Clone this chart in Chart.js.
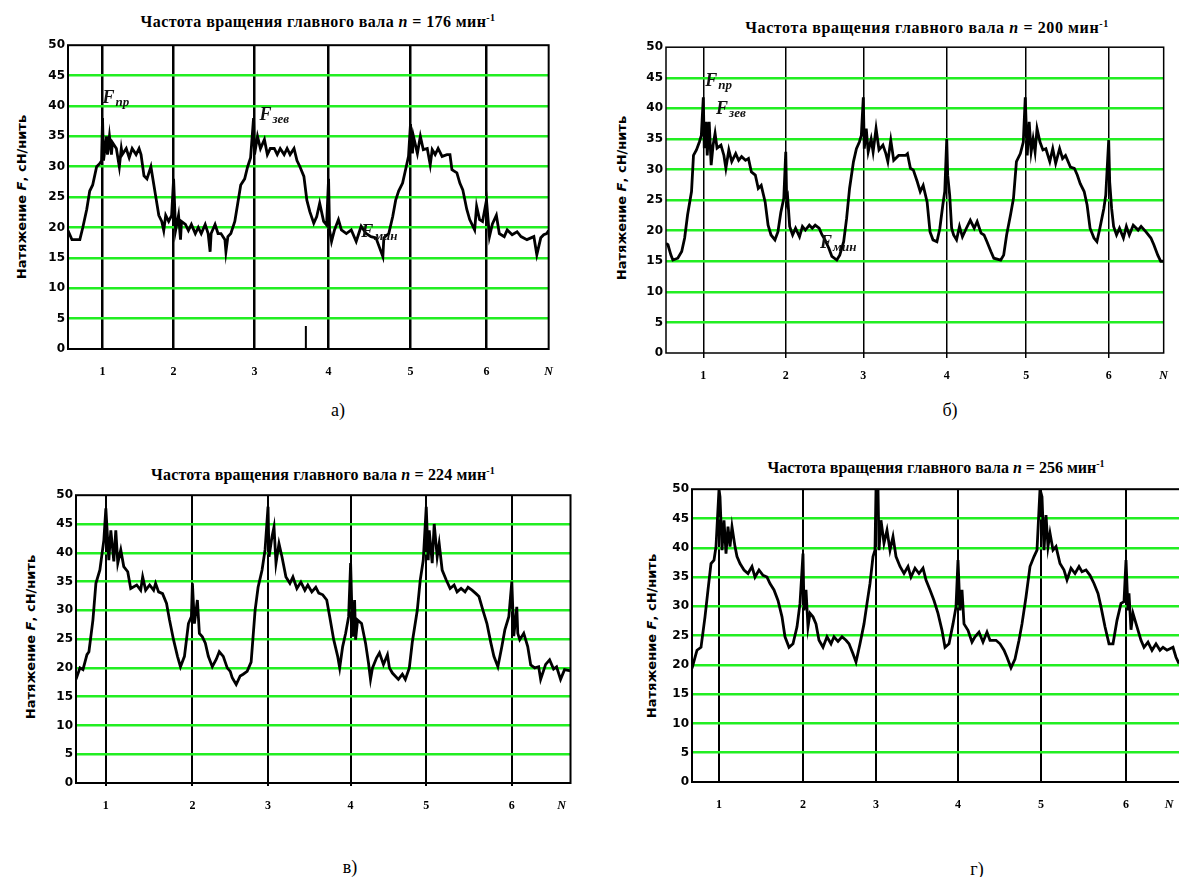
<!DOCTYPE html>
<html lang="ru">
<head>
<meta charset="UTF-8">
<title>Натяжение нитей основы</title>
<style>
    body {
        margin: 0;
        background: #fff;
        width: 1179px;
        height: 877px;
        overflow: hidden;
        position: relative;
        color: #000;
    }
    canvas { position: absolute; }
    .title {
        position: absolute;
        transform: translate(-50%, -50%);
        font: bold 16px "Liberation Serif", serif;
        white-space: nowrap;
    }
    .title sup { font-size: 10px; vertical-align: 6px; line-height: 0; }
    .ytitle {
        position: absolute;
        transform: translate(-50%, -50%) rotate(-90deg);
        font: bold 13px "DejaVu Sans", sans-serif;
        white-space: nowrap;
    }
    .caption {
        position: absolute;
        transform: translate(-50%, -50%);
        font: 18px "Liberation Serif", serif;
    }
</style>
<script src="https://cdn.jsdelivr.net/npm/chart.js"></script>
</head>
<body>
    <!-- а) n = 176 -->
    <div class="title" style="left:318px; top:22px; letter-spacing:0.4px;">Частота вращения главного вала <i>n</i> = 176 мин<sup>-1</sup></div>
    <div class="ytitle" style="left:21px; top:197px;">Натяжение <i>F</i>, сН/нить</div>
    <canvas id="chartA" width="539" height="349" style="left:30px; top:35px;"></canvas>
    <div class="caption" style="left:338px; top:410px;">а)</div>

    <!-- б) n = 200 -->
    <div class="title" style="left:927px; top:28px; letter-spacing:0.6px;">Частота вращения главного вала <i>n</i> = 200 мин<sup>-1</sup></div>
    <div class="ytitle" style="left:621px; top:198px;">Натяжение <i>F</i>, сН/нить</div>
    <canvas id="chartB" width="543" height="351" style="left:636px; top:37px;"></canvas>
    <div class="caption" style="left:950px; top:410px;">б)</div>

    <!-- в) n = 224 -->
    <div class="title" style="left:323px; top:475px; letter-spacing:0.15px;">Частота вращения главного вала <i>n</i> = 224 мин<sup>-1</sup></div>
    <div class="ytitle" style="left:30px; top:637px;">Натяжение <i>F</i>, сН/нить</div>
    <canvas id="chartC" width="535" height="333" style="left:44px; top:485px;"></canvas>
    <div class="caption" style="left:350px; top:867px;">в)</div>

    <!-- г) n = 256 -->
    <div class="title" style="left:936px; top:468px;">Частота вращения главного вала <i>n</i> = 256 мин<sup>-1</sup></div>
    <div class="ytitle" style="left:651px; top:636px;">Натяжение <i>F</i>, сН/нить</div>
    <canvas id="chartD" width="531" height="338" style="left:662px; top:479px;"></canvas>
    <div class="caption" style="left:977px; top:869px;">г)</div>

    <script>
        // time axis in samples, cycle marks N = 1..6
        const xLabels = ['1', '2', '3', '4', '5', '6', 'N'];
        const yTicks = [0, 5, 10, 15, 20, 25, 30, 35, 40, 45, 50];

        // а) n = 176 min-1
        const marksA = [35, 107, 189, 264, 347, 424];
        const tA = [0, 4, 12, 15, 19, 22, 25, 29, 32, 34, 35, 36, 39, 40, 42, 44, 45, 49, 52, 54, 55, 59, 62, 65, 69, 72, 74, 77, 80, 84, 87, 89, 92, 95, 97, 99, 102, 105, 107, 109, 112, 114, 115, 119, 122, 125, 129, 132, 135, 139, 142, 144, 145, 149, 152, 155, 159, 160, 162, 165, 169, 172, 175, 179, 182, 185, 188, 189, 192, 195, 199, 202, 205, 209, 212, 215, 219, 222, 225, 229, 232, 235, 239, 242, 245, 249, 252, 255, 259, 262, 264, 265, 267, 270, 274, 277, 282, 287, 292, 297, 302, 307, 312, 319, 320, 325, 329, 332, 335, 339, 342, 345, 347, 349, 350, 354, 357, 360, 364, 367, 369, 372, 375, 379, 384, 387, 389, 394, 397, 400, 404, 407, 412, 414, 417, 420, 424, 427, 430, 434, 437, 442, 445, 450, 455, 459, 465, 472, 475, 479, 482, 485, 487];
        const fA = [19.5, 18, 18, 20, 23, 26, 27, 30, 30.5, 31, 38, 31, 35, 32, 35, 32, 34, 33, 30, 33, 32, 33, 31.5, 33, 32, 33, 32, 28.5, 28, 30, 27, 25, 22, 21, 19.5, 22, 21, 22, 28, 19.5, 22, 18, 21, 20.5, 19.5, 20.5, 19, 20, 19, 20.5, 19, 16, 19, 20.5, 19, 19, 18, 16, 18.5, 19, 21, 24, 27, 28, 30, 31.5, 38, 32, 35, 33, 34.5, 32, 33, 33, 32, 33, 32, 33, 32, 33, 31, 30, 28.4, 24.5, 22.6, 20.7, 21.8, 24, 21, 20.4, 28, 19.6, 17.7, 19.6, 21.3, 19.6, 19, 19.6, 17.7, 20.2, 19, 18.5, 18.3, 15.2, 18.3, 19, 21.8, 24.5, 26, 27.3, 29.5, 31.7, 37, 32.2, 35, 32.2, 35, 32.8, 33, 30.3, 32.8, 32, 33, 31.7, 32, 32, 29.5, 29, 27.3, 26.2, 23, 21.3, 19.6, 23.5, 21.3, 21, 24.5, 18.5, 20.6, 22, 19, 18.5, 19.6, 18.8, 19.3, 18.5, 18, 18.5, 15.5, 18.3, 18.8, 19, 19.5];
        const stubA = [0, 3.8];

        // б) n = 200 min-1
        const marksB = [38, 122, 201, 286, 367, 451];
        const tB = [0, 2, 5, 7, 12, 16, 19, 22, 26, 28, 31, 34, 36, 38, 39, 41, 42, 44, 46, 48, 50, 52, 56, 59, 61, 64, 67, 71, 74, 77, 81, 84, 87, 91, 94, 97, 101, 104, 107, 111, 114, 117, 120, 122, 123, 124, 126, 129, 132, 136, 139, 142, 146, 149, 152, 156, 159, 162, 166, 169, 174, 177, 181, 184, 187, 191, 194, 197, 199, 201, 202, 204, 206, 209, 211, 214, 217, 221, 224, 226, 229, 232, 237, 244, 246, 249, 252, 256, 259, 262, 266, 269, 272, 276, 279, 282, 284, 286, 287, 289, 291, 293, 296, 299, 302, 306, 310, 314, 317, 321, 324, 327, 331, 334, 341, 344, 347, 351, 354, 357, 361, 364, 366, 368, 370, 372, 374, 376, 378, 381, 384, 387, 391, 394, 397, 401, 404, 407, 412, 416, 419, 422, 426, 429, 432, 436, 439, 442, 446, 448, 451, 452, 454, 456, 459, 462, 466, 469, 472, 476, 481, 484, 489, 494, 497, 501, 504, 507];
        const fB = [17.9, 17.7, 16, 15.2, 15.5, 16.6, 18.8, 22.6, 26.4, 32.3, 33.2, 34.5, 35.6, 41.8, 33.5, 37.8, 32.3, 37.8, 30.7, 34, 35.9, 33.5, 34, 32.3, 30.2, 33.2, 31.3, 32.6, 31.5, 32.1, 31.5, 31.8, 29.6, 29.1, 26.9, 27.4, 24.7, 20.9, 19.3, 18.5, 19.8, 23, 25.3, 32.9, 24.7, 25.3, 20.7, 19.3, 20.4, 19, 20.7, 20.1, 20.9, 20.4, 20.9, 20.4, 19.3, 18.5, 17.1, 15.8, 15.2, 16, 18.2, 22, 26.9, 31.3, 33.4, 34.5, 35.6, 41.8, 33.4, 36.7, 32.9, 35, 32.9, 36.7, 33.2, 34, 32.6, 31.3, 34.8, 31.5, 32.3, 32.3, 32.6, 30.2, 29.9, 28, 26.4, 27.4, 24.7, 19.8, 18.5, 18.2, 20.4, 24.2, 26.4, 35, 29, 25.8, 20.4, 19.3, 18.5, 20.7, 19, 20.4, 21.7, 20.4, 21.5, 19.6, 19.3, 18.2, 16.6, 15.5, 15.2, 16, 19.3, 22.6, 25.3, 31.3, 32.6, 34.5, 41.8, 32.3, 37.8, 32.9, 35, 32.9, 36.7, 34.5, 33.2, 33.4, 31.3, 33.4, 31, 33.4, 31.8, 32.3, 30.4, 30.2, 29.1, 27.7, 26.4, 24.2, 20.4, 18.8, 18.2, 20.4, 23.6, 25.8, 34.8, 28, 23.6, 20.7, 19.3, 20.4, 18.8, 20.7, 19.3, 20.9, 20.1, 20.7, 19.8, 18.8, 17.7, 16, 15, 15];

        // в) n = 224 min-1
        const marksC = [30, 117, 193, 276, 352, 438];
        const tC = [0, 4, 7, 11, 13, 17, 20, 24, 28, 30, 33, 35, 38, 40, 42, 45, 48, 52, 55, 61, 65, 67, 70, 74, 78, 80, 83, 87, 91, 94, 98, 102, 105, 109, 113, 116, 117, 119, 122, 124, 127, 130, 133, 137, 141, 144, 148, 150, 152, 155, 157, 161, 165, 168, 172, 176, 180, 183, 187, 190, 193, 194, 197, 199, 201, 204, 207, 211, 215, 218, 222, 226, 230, 233, 237, 241, 244, 248, 252, 255, 259, 263, 265, 268, 271, 274, 276, 278, 280, 281, 283, 287, 291, 294, 296, 298, 302, 305, 309, 313, 315, 318, 324, 328, 331, 335, 338, 343, 346, 349, 352, 354, 355, 358, 360, 363, 365, 368, 372, 376, 380, 383, 387, 391, 394, 398, 402, 405, 409, 413, 417, 420, 424, 428, 431, 435, 438, 440, 443, 444, 446, 450, 454, 457, 461, 465, 467, 472, 476, 480, 483, 487, 491, 497];
        const fC = [18, 20, 19.7, 22.3, 22.8, 28.3, 34.7, 37, 42.2, 47.7, 38.7, 43.9, 38.5, 43.9, 38.2, 40.5, 37.6, 36.7, 33.8, 34.4, 33.5, 35.8, 33.5, 34.4, 33.5, 34.7, 33.2, 32.9, 31.2, 28.3, 24.9, 22, 20.2, 22, 27.7, 28.9, 34.7, 27.7, 31.8, 26, 25.4, 24.3, 22, 20.2, 21.5, 22.8, 22, 21, 20, 19.4, 18.3, 17.1, 18.6, 18.9, 19.4, 21, 30, 34, 37, 40.5, 48, 39.3, 42.8, 44.5, 38.2, 41.6, 39.3, 35.8, 34.7, 35.8, 33.8, 34.9, 33.5, 34.4, 33.2, 34, 33, 32.7, 31.8, 28.9, 24.9, 22, 20, 23.7, 26, 28.9, 38.2, 25.4, 31.8, 24.9, 28.3, 27.7, 24.3, 20.8, 18, 20, 21.7, 22.6, 20.6, 22.3, 20, 19.1, 18, 18.9, 18, 20, 24.5, 30, 35.3, 38.7, 48, 38.7, 43.9, 38.2, 45, 39.3, 41.6, 37, 35.3, 33.8, 34.4, 33.2, 33.8, 33.2, 34, 33.5, 32.9, 32.4, 30, 27.7, 24.3, 22, 20.2, 23.7, 26.6, 28.9, 35, 25.5, 30.6, 26, 24.9, 26, 23.7, 20.5, 20, 20.2, 18, 20.6, 21.4, 19.8, 20.2, 18, 19.7, 19.5];

        // г) n = 256 min-1
        const marksD = [27, 111, 184, 266, 349, 434];
        const tD = [0, 5, 9, 13, 16, 19, 22, 24, 27, 28, 30, 32, 34, 36, 38, 40, 43, 45, 48, 52, 56, 60, 63, 67, 71, 75, 78, 82, 86, 90, 93, 97, 101, 105, 108, 111, 112, 114, 116, 118, 121, 124, 127, 131, 135, 139, 142, 146, 150, 154, 157, 161, 164, 168, 172, 175, 178, 181, 183, 184, 186, 187, 189, 192, 195, 198, 201, 204, 208, 212, 216, 219, 223, 227, 231, 234, 238, 242, 246, 250, 253, 257, 261, 264, 266, 268, 270, 272, 276, 280, 283, 287, 291, 295, 298, 304, 308, 312, 315, 319, 323, 327, 330, 334, 338, 342, 345, 348, 350, 352, 354, 356, 358, 361, 364, 368, 372, 375, 379, 383, 387, 390, 394, 398, 402, 406, 409, 413, 417, 421, 425, 429, 432, 434, 436, 437, 439, 441, 445, 449, 452, 456, 460, 464, 468, 471, 475, 481, 484, 487];
        const fD = [19.4, 22.5, 23, 28.2, 32.8, 37.3, 37.9, 40.2, 50, 48.7, 39.6, 44.7, 39, 43.6, 40.2, 43.6, 40.2, 38.5, 37.3, 36.2, 35.6, 36.8, 35, 36.2, 35.3, 35, 33.9, 32.8, 31, 28.2, 24.8, 23, 23.6, 26.5, 30.5, 39, 29.3, 32.8, 26.5, 28.8, 28.2, 27, 24.2, 23, 24.8, 23.6, 24.8, 24, 24.8, 24.2, 23.6, 21.9, 20.5, 23.6, 27, 30.5, 33.9, 38.5, 39.6, 50, 50, 39.6, 44.7, 40.8, 43, 39.6, 41.9, 38.5, 36.8, 35.6, 36.8, 35, 36.5, 35.6, 36.5, 34.5, 32.8, 31, 28.8, 25.9, 23, 23.6, 27, 29.9, 37.9, 29.3, 32.8, 27, 25.9, 23.9, 24.8, 25.6, 23.9, 25.6, 24.2, 24.2, 23.6, 22.5, 21.3, 19.5, 21, 24.2, 27, 31.6, 36.8, 38.5, 39.6, 50, 48.7, 39.6, 45.6, 40.2, 42.5, 39.6, 40.2, 37.3, 36.2, 34.5, 36.5, 35.6, 36.8, 35.9, 36.2, 35.3, 33.9, 32.2, 29.9, 26.5, 23.6, 23.6, 27.6, 30.5, 30.8, 37.9, 29.3, 32.2, 26, 28.8, 26.5, 24.2, 23, 23.9, 22.5, 23.6, 22.5, 23, 22.5, 23, 21.3, 20.2];

        // draw the box around the plot area
        const plotBox = {
            id: 'plotBox',
            beforeDatasetsDraw(chart, args, opts) {
                const a = chart.chartArea;
                const ctx = chart.ctx;
                ctx.save();
                ctx.strokeStyle = '#000';
                ctx.lineWidth = opts.width;
                ctx.strokeRect(a.left, a.top, a.right - a.left, a.bottom - a.top);
                ctx.restore();
            }
        };

        // F labels (F + subscript) placed in data coordinates
        const fLabels = {
            id: 'fLabels',
            afterDatasetsDraw(chart, args, opts) {
                const ctx = chart.ctx;
                const xs = chart.scales.x, ys = chart.scales.y;
                ctx.save();
                ctx.fillStyle = '#111';
                ctx.textBaseline = 'alphabetic';
                (opts.items || []).forEach(it => {
                    const px = xs.getPixelForValue(it.x);
                    const py = ys.getPixelForValue(it.y);
                    ctx.font = 'italic bold 18px "Liberation Serif"';
                    ctx.fillText('F', px, py);
                    const w = ctx.measureText('F').width;
                    ctx.font = 'italic bold 13px "Liberation Serif"';
                    ctx.fillText(it.sub, px + w + 1, py + 3);
                });
                ctx.restore();
            }
        };

        function makePanel(id, t, f, marks, cfg) {
            const datasets = [{
                data: t.map((x, i) => ({ x: x, y: f[i] })),
                borderColor: '#000',
                borderWidth: 2.8,
                pointRadius: 0,
                tension: 0,
                fill: false
            }];
            if (cfg.stub) {
                datasets.push({
                    data: cfg.stub.y.map(v => ({ x: cfg.stub.x, y: v })),
                    borderColor: '#000',
                    borderWidth: 2,
                    pointRadius: 0
                });
            }
            const nTicks = marks.concat([cfg.nPos]);
            return new Chart(document.getElementById(id), {
                type: 'line',
                data: { datasets: datasets },
                options: {
                    responsive: false,
                    animation: false,
                    events: [],
                    layout: { padding: { top: cfg.padTop, right: cfg.padRight, left: 0, bottom: 0 } },
                    plugins: {
                        legend: { display: false },
                        tooltip: { enabled: false },
                        plotBox: { width: cfg.boxW },
                        fLabels: { items: cfg.labels || [] }
                    },
                    scales: {
                        x: {
                            type: 'linear',
                            min: 0,
                            max: cfg.xMax,
                            afterBuildTicks: s => { s.ticks = nTicks.map(v => ({ value: v })); },
                            afterFit: s => { s.height = cfg.xAxisH; },
                            border: { display: false },
                            grid: {
                                color: c => c.index < marks.length ? '#000' : 'rgba(0,0,0,0)',
                                lineWidth: cfg.markW,
                                drawTicks: cfg.tickLen > 0,
                                tickLength: cfg.tickLen,
                                tickColor: c => c.index < marks.length ? '#000' : 'rgba(0,0,0,0)'
                            },
                            ticks: {
                                autoSkip: false,
                                maxRotation: 0,
                                padding: 16 - cfg.tickLen,
                                color: '#000',
                                font: c => ({
                                    family: '"Liberation Serif", serif',
                                    weight: 'bold',
                                    style: c.index === marks.length ? 'italic' : 'normal',
                                    size: 12
                                }),
                                callback: (v, i) => xLabels[i]
                            }
                        },
                        y: {
                            min: 0,
                            max: 50,
                            afterBuildTicks: s => { s.ticks = yTicks.map(v => ({ value: v })); },
                            afterFit: s => { s.width = cfg.yAxisW; },
                            border: { display: false },
                            grid: {
                                color: c => (c.tick.value > 0 && c.tick.value < 50) ? '#22ee22' : 'rgba(0,0,0,0)',
                                lineWidth: 2.5,
                                drawTicks: false
                            },
                            ticks: {
                                padding: 3,
                                color: '#000',
                                font: { family: '"DejaVu Sans", sans-serif', weight: 'bold', size: 12 }
                            }
                        }
                    }
                },
                plugins: [plotBox, fLabels]
            });
        }

        makePanel('chartA', tA, fA, marksA, {
            xMax: 487, nPos: 487, yAxisW: 38, padTop: 10, padRight: 14, xAxisH: 35,
            markW: 2.5, boxW: 2, tickLen: 0,
            stub: { x: 241, y: stubA },
            labels: [
                { x: 35, y: 40.5, sub: 'пр' },
                { x: 194, y: 37.7, sub: 'зев' },
                { x: 297, y: 18.4, sub: 'мин' }
            ]
        });

        makePanel('chartB', tB, fB, marksB, {
            xMax: 507, nPos: 507, yAxisW: 30, padTop: 10, padRight: 6, xAxisH: 35,
            markW: 1.5, boxW: 1.5, tickLen: 5,
            labels: [
                { x: 40, y: 43.7, sub: 'пр' },
                { x: 51, y: 39.1, sub: 'зев' },
                { x: 157, y: 17.1, sub: 'мин' }
            ]
        });

        makePanel('chartC', tC, fC, marksC, {
            xMax: 497, nPos: 488, yAxisW: 32, padTop: 10, padRight: 6, xAxisH: 35,
            markW: 2, boxW: 2, tickLen: 3
        });

        makePanel('chartD', tD, fD, marksD, {
            xMax: 493, nPos: 477, yAxisW: 30, padTop: 10, padRight: 8, xAxisH: 35,
            markW: 2, boxW: 2, tickLen: 0
        });
    </script>
</body>
</html>
